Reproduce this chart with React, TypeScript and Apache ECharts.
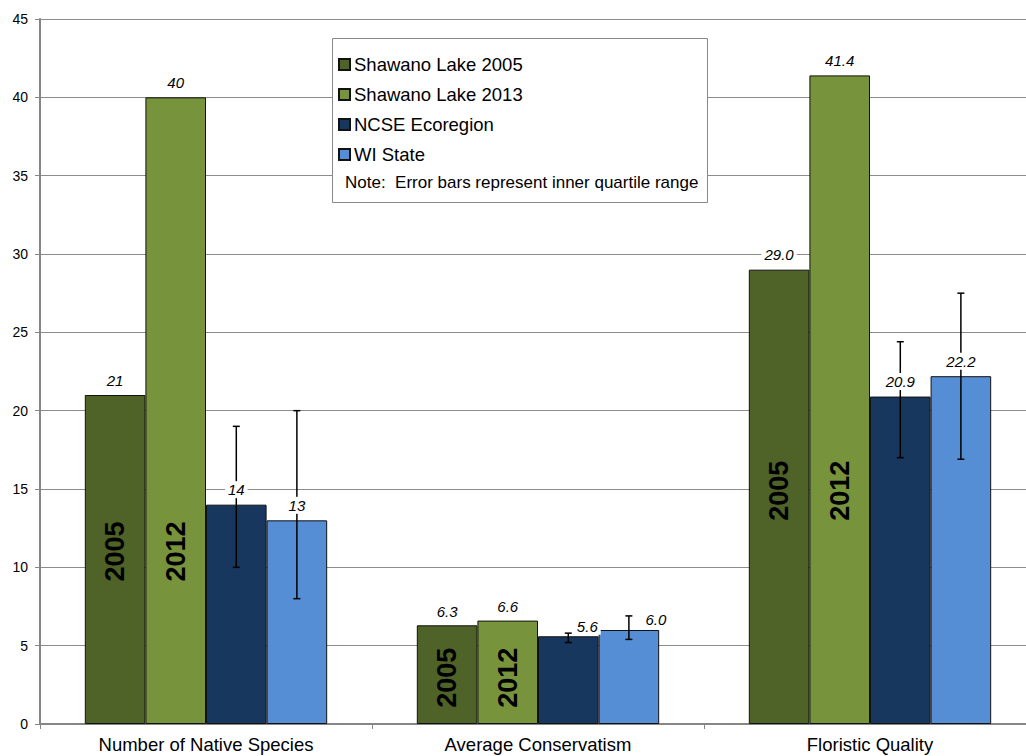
import React, { useEffect, useRef } from "react";
import * as echarts from "echarts";

const categories = ["Number of Native Species", "Average Conservatism", "Floristic Quality"];
const seriesNames = ["Shawano Lake 2005", "Shawano Lake 2013", "NCSE Ecoregion", "WI State"];
const shawano2005 = [21, 6.3, 29.0];
const shawano2013 = [40, 6.6, 41.4];
const ncse = [14, 5.6, 20.9];
const wiState = [13, 6.0, 22.2];
const ncseLow = [10, 5.2, 17.0];
const ncseHigh = [19, 5.8, 24.4];
const wiLow = [8, 5.4, 16.9];
const wiHigh = [20, 6.9, 27.5];
const decimals = [0, 1, 1];
const yearLabels = ["2005", "2012"];
const noteText = "Note:  Error bars represent inner quartile range";

const colors = ["#4F6228", "#77933C", "#17375E", "#558ED5"];
const FONT = "'Liberation Sans', Arial, sans-serif";
const GAP_FRAC = 0.27;
const NBARS = 4;

// label offsets [dx, dy] per series per category (style only)
const labelOffsets = [
  [[0, -15], [0, -14], [0, -15]],
  [[0, -15], [0, -14], [0, -15]],
  [[0, -15], [19, -10], [0, -15]],
  [[0, -15], [27, -11], [0, -15]],
];
const yearLabelDy = [-8, 3, -6];

const allValues = [shawano2005, shawano2013, ncse, wiState];

export default function App() {
  const ref = useRef<HTMLDivElement>(null);
  useEffect(() => {
    if (!ref.current) return;
    const chart = echarts.init(ref.current, null, { renderer: "svg" });

    const barOffset = (api: any, k: number) => {
      const band = api.size([1, 0])[0];
      const bw = (band * (1 - GAP_FRAC)) / NBARS;
      return (k - (NBARS - 1) / 2) * bw;
    };

    const errData: any[] = [];
    categories.forEach((_, j) => {
      errData.push([j, ncseLow[j], ncseHigh[j], 2]);
      errData.push([j, wiLow[j], wiHigh[j], 3]);
    });

    const labelData: any[] = [];
    allValues.forEach((vals, k) => {
      vals.forEach((v, j) => labelData.push([j, v, k]));
    });

    // year labels sit at mid-height of the 2005 bar in each group
    const yearData: any[] = [];
    yearLabels.forEach((_, k) => {
      shawano2005.forEach((v, j) => yearData.push([j, v / 2, k]));
    });

    const barSeries = allValues.map((vals, k) => ({
      name: seriesNames[k],
      type: "bar",
      data: vals,
      barGap: "0%",
      barCategoryGap: "27%",
      itemStyle: { color: colors[k], borderColor: "#111", borderWidth: 1 },
      z: 2,
    }));

    chart.setOption({
      animation: false,
      grid: {
        left: 40,
        width: 996,
        top: 19,
        bottom: 32,
        containLabel: false,
        outerBoundsMode: "none",
      },
      legend: {
        data: seriesNames,
        orient: "vertical",
        left: 338,
        top: 55,
        padding: 0,
        itemGap: 11,
        itemWidth: 11,
        itemHeight: 11,
        icon: "rect",
        selectedMode: false,
        textStyle: { fontFamily: FONT, fontSize: 18.5, color: "#000", padding: [0, 0, 0, -1] },
        z: 5,
      },
      graphic: [
        {
          type: "rect",
          shape: { x: 332.5, y: 38.5, width: 375, height: 164 },
          style: { fill: "#fff", stroke: "#888", lineWidth: 1 },
          z: 3,
        },
        {
          type: "text",
          x: 345,
          y: 182,
          style: {
            text: noteText,
            font: `17px ${FONT}`,
            fill: "#000",
            verticalAlign: "middle",
          },
          z: 4,
        },
      ],
      xAxis: {
        type: "category",
        data: categories,
        axisLine: { lineStyle: { color: "#868686", width: 2 } },
        axisTick: { show: true, length: 5, lineStyle: { color: "#868686" } },
        axisLabel: { fontFamily: FONT, fontSize: 18.5, color: "#000", margin: 11 },
      },
      yAxis: {
        type: "value",
        min: 0,
        max: 45,
        interval: 5,
        axisLine: { show: true, lineStyle: { color: "#868686", width: 2 } },
        axisTick: { show: true, length: 5, lineStyle: { color: "#868686" } },
        axisLabel: { fontFamily: FONT, fontSize: 14, color: "#000", margin: 12 },
        splitLine: { lineStyle: { color: "#8c8c8c", width: 1 } },
      },
      series: [
        ...barSeries,
        {
          type: "custom",
          name: "yearlabels",
          data: yearData,
          z: 3,
          renderItem: (params: any, api: any) => {
            const j = api.value(0);
            const v = api.value(1);
            const k = api.value(2);
            const p = api.coord([j, v]);
            return {
              type: "text",
              x: p[0] + barOffset(api, k),
              y: p[1] + yearLabelDy[j],
              rotation: Math.PI / 2,
              style: {
                text: yearLabels[k],
                font: `bold 27px ${FONT}`,
                fill: "#000",
                align: "center",
                verticalAlign: "middle",
              },
            };
          },
        },
        {
          type: "custom",
          name: "errorbars",
          data: errData,
          z: 4,
          renderItem: (params: any, api: any) => {
            const j = api.value(0);
            const lo = api.value(1);
            const hi = api.value(2);
            const k = api.value(3);
            const pLo = api.coord([j, lo]);
            const pHi = api.coord([j, hi]);
            const x = pLo[0] + barOffset(api, k);
            const cap = 3.5;
            const st = { stroke: "#000", lineWidth: 1.5 };
            return {
              type: "group",
              children: [
                { type: "line", shape: { x1: x, y1: pLo[1], x2: x, y2: pHi[1] }, style: st },
                { type: "line", shape: { x1: x - cap, y1: pLo[1], x2: x + cap, y2: pLo[1] }, style: st },
                { type: "line", shape: { x1: x - cap, y1: pHi[1], x2: x + cap, y2: pHi[1] }, style: st },
              ],
            };
          },
        },
        {
          type: "custom",
          name: "valuelabels",
          data: labelData,
          z: 6,
          renderItem: (params: any, api: any) => {
            const j = api.value(0);
            const v = api.value(1);
            const k = api.value(2);
            const p = api.coord([j, v]);
            const off = labelOffsets[k][j];
            return {
              type: "text",
              x: p[0] + barOffset(api, k) + off[0],
              y: p[1] + off[1],
              style: {
                text: Number(v).toFixed(decimals[j]),
                font: `italic 15px ${FONT}`,
                fill: "#000",
                align: "center",
                verticalAlign: "middle",
                backgroundColor: "#fff",
                padding: [1, 3],
              },
            };
          },
        },
      ],
    });
    return () => chart.dispose();
  }, []);
  return (
    <div
      ref={ref}
      style={{ position: "absolute", left: 0, top: 0, width: 1026, height: 756 }}
    />
  );
}
